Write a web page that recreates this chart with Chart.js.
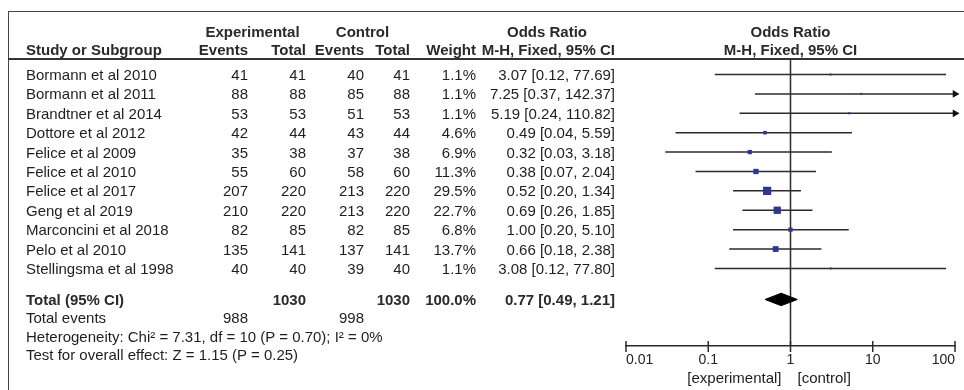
<!DOCTYPE html>
<html>
<head>
<meta charset="utf-8">
<script src="https://cdn.jsdelivr.net/npm/chart.js@4/dist/chart.umd.min.js"></script>
<style>
html,body{margin:0;padding:0;background:#fff;}
#wrap{position:relative;width:964px;height:390px;overflow:hidden;font-family:"Liberation Sans",Arial,sans-serif;font-size:15px;color:#1e1e1e;}
#c{position:absolute;left:0;top:0;}
.t{position:absolute;white-space:nowrap;line-height:17px;}
.b{font-weight:bold;color:#2a2a2a;}
#frame{position:absolute;left:8px;top:11px;width:1000px;height:420px;border-left:1px solid #444;border-top:1px solid #444;}
#hline{position:absolute;left:8px;top:58px;width:980px;height:0;border-top:2px solid #333;}
</style>
</head>
<body>
<div id="wrap">
  <div id="frame"></div>
  <div id="hline"></div>
  <canvas id="c" width="964" height="390"></canvas>
</div>
<script>
// ---- data ----
const studies = ["Bormann et al 2010","Bormann et al 2011","Brandtner et al 2014","Dottore et al 2012","Felice et al 2009","Felice et al 2010","Felice et al 2017","Geng et al 2019","Marconcini et al 2018","Pelo et al 2010","Stellingsma et al 1998"];
const expEvents  = [41, 88, 53, 42, 35, 55, 207, 210, 82, 135, 40];
const expTotal   = [41, 88, 53, 44, 38, 60, 220, 220, 85, 141, 40];
const ctrlEvents = [40, 85, 51, 43, 37, 58, 213, 213, 82, 137, 39];
const ctrlTotal  = [41, 88, 53, 44, 38, 60, 220, 220, 85, 141, 40];
const weights    = [1.1, 1.1, 1.1, 4.6, 6.9, 11.3, 29.5, 22.7, 6.8, 13.7, 1.1];
const orEst      = [3.07, 7.25, 5.19, 0.49, 0.32, 0.38, 0.52, 0.69, 1.00, 0.66, 3.08];
const ciLow      = [0.12, 0.37, 0.24, 0.04, 0.03, 0.07, 0.20, 0.26, 0.20, 0.18, 0.12];
const ciHigh     = [77.69, 142.37, 110.82, 5.59, 3.18, 2.04, 1.34, 1.85, 5.10, 2.38, 77.80];
const totalExp = 1030, totalCtrl = 1030, totalWeight = 100.0;
const totalOR = 0.77, totalLow = 0.49, totalHigh = 1.21;
const totalEventsExp = 988, totalEventsCtrl = 998;
const heterogeneityText = "Heterogeneity: Chi\u00B2 = 7.31, df = 10 (P = 0.70); I\u00B2 = 0%";
const overallText = "Test for overall effect: Z = 1.15 (P = 0.25)";
const xTicks = [0.01, 0.1, 1, 10, 100];
const xTickLabels = ["0.01", "0.1", "1", "10", "100"];

// ---- layout ----
const ROW_TOTAL = 11.6, ROW_EVENTS = 12.55, ROW_HET = 13.5, ROW_TEST = 14.45;
const Y_MIN = -0.8, Y_MAX = 14.0;
const COL = {name: 26, expE: 248, expT: 306, ctlE: 364, ctlT: 410, wt: 476, ci: 615};
const XMIN = 0.01, XMAX = 100;
const LINE_COLOR = '#2b2b2b';
const SQ_COLOR = '#2c3797';
const FONT = '"Liberation Sans", Arial, sans-serif';

const fmt2 = v => v.toFixed(2);
const ciText = (e, l, h) => `${fmt2(e)} [${fmt2(l)}, ${fmt2(h)}]`;

const datasets = [];
// reference line at OR = 1
datasets.push({type: 'line', data: [{x: 1, y: Y_MIN}, {x: 1, y: Y_MAX}], borderColor: LINE_COLOR, borderWidth: 1.5, pointRadius: 0, clip: false, order: 5});
// CI lines
studies.forEach((s, i) => {
  datasets.push({type: 'line', data: [{x: Math.max(ciLow[i], XMIN), y: i}, {x: Math.min(ciHigh[i], XMAX), y: i}],
    borderColor: LINE_COLOR, borderWidth: 1.5, pointRadius: 0, clip: false, order: 4});
});
// squares (area proportional to weight)
datasets.push({type: 'scatter', data: orEst.map((v, i) => ({x: v, y: i})),
  pointStyle: 'rect', backgroundColor: SQ_COLOR, borderColor: SQ_COLOR, borderWidth: 0,
  pointRadius: ctx => 1.0 * Math.sqrt(weights[ctx.dataIndex]) + 0.4, clip: false, order: 1});
// arrows for CIs beyond the axis
const arrowPts = [];
ciHigh.forEach((h, i) => { if (h > XMAX) arrowPts.push({x: XMAX, y: i}); });
datasets.push({type: 'scatter', data: arrowPts, pointStyle: 'triangle', rotation: 90, pointRadius: 4.5,
  backgroundColor: '#111', borderColor: '#111', borderWidth: 0, clip: false, order: 1});
// pooled diamond
const DH = 0.32;
datasets.push({type: 'line', data: [
  {x: totalLow, y: ROW_TOTAL}, {x: totalOR, y: ROW_TOTAL - DH}, {x: totalHigh, y: ROW_TOTAL},
  {x: totalOR, y: ROW_TOTAL + DH}, {x: totalLow, y: ROW_TOTAL}],
  borderColor: '#000', backgroundColor: '#000', borderWidth: 1, fill: 'shape', pointRadius: 0, tension: 0, clip: false, order: 0});

const tickMarks = {
  id: 'tickMarks',
  afterDraw(chart) {
    const {ctx, scales: {x}, chartArea} = chart;
    ctx.save();
    ctx.strokeStyle = LINE_COLOR; ctx.lineWidth = 1.5;
    x.ticks.forEach(t => {
      const px = x.getPixelForValue(t.value);
      ctx.beginPath(); ctx.moveTo(px, chartArea.bottom - 5); ctx.lineTo(px, chartArea.bottom + 6); ctx.stroke();
    });
    ctx.restore();
  }
};

const chart = new Chart(document.getElementById('c'), {
  type: 'scatter',
  data: {datasets},
  options: {
    responsive: false, animation: false,
    layout: {padding: {left: 626, right: 9, top: 59, bottom: 14}},
    plugins: {legend: {display: false}, tooltip: {enabled: false}},
    scales: {
      x: {type: 'logarithmic', min: XMIN, max: XMAX,
        afterBuildTicks: s => { s.ticks = xTicks.map(v => ({value: v})); },
        afterFit: s => { s.height = 30; },
        ticks: {callback: (v, i) => xTickLabels[i], align: 'inner', autoSkip: false, maxRotation: 0, padding: 6,
          color: '#222', font: {family: FONT, size: 14}},
        grid: {display: false, drawTicks: false},
        border: {display: true, color: LINE_COLOR, width: 1.5}},
      y: {type: 'linear', reverse: true, min: Y_MIN, max: Y_MAX, display: false}
    }
  },
  plugins: [tickMarks]
});

// ---- table text (real DOM text, positioned from the chart's y scale) ----
const wrap = document.getElementById('wrap');
const yPix = v => chart.scales.y.getPixelForValue(v);
function addText(txt, x, yc, align, bold) {
  const d = document.createElement('div');
  d.className = 't' + (bold ? ' b' : '');
  d.textContent = txt;
  d.style.top = (yc - 8.5) + 'px';
  if (align === 'right') d.style.right = (964 - x) + 'px';
  else if (align === 'center') { d.style.left = x + 'px'; d.style.transform = 'translateX(-50%)'; }
  else d.style.left = x + 'px';
  wrap.appendChild(d);
}
const H1 = 31, H2 = 49;
const x1 = chart.scales.x.getPixelForValue(1);
addText('Experimental', (COL.expE - 49 + COL.expT) / 2, H1, 'center', true);
addText('Control', (COL.ctlE - 49 + COL.ctlT) / 2, H1, 'center', true);
addText('Odds Ratio', COL.ci - 68, H1, 'center', true);
addText('Odds Ratio', x1, H1, 'center', true);
addText('Study or Subgroup', COL.name, H2, 'left', true);
addText('Events', COL.expE, H2, 'right', true);
addText('Total', COL.expT, H2, 'right', true);
addText('Events', COL.ctlE, H2, 'right', true);
addText('Total', COL.ctlT, H2, 'right', true);
addText('Weight', COL.wt, H2, 'right', true);
addText('M-H, Fixed, 95% CI', COL.ci, H2, 'right', true);
addText('M-H, Fixed, 95% CI', x1, H2, 'center', true);

studies.forEach((s, i) => {
  const y = yPix(i);
  addText(s, COL.name, y, 'left');
  addText(String(expEvents[i]), COL.expE, y, 'right');
  addText(String(expTotal[i]), COL.expT, y, 'right');
  addText(String(ctrlEvents[i]), COL.ctlE, y, 'right');
  addText(String(ctrlTotal[i]), COL.ctlT, y, 'right');
  addText(weights[i].toFixed(1) + '%', COL.wt, y, 'right');
  addText(ciText(orEst[i], ciLow[i], ciHigh[i]), COL.ci, y, 'right');
});
let y = yPix(ROW_TOTAL);
addText('Total (95% CI)', COL.name, y, 'left', true);
addText(String(totalExp), COL.expT, y, 'right', true);
addText(String(totalCtrl), COL.ctlT, y, 'right', true);
addText(totalWeight.toFixed(1) + '%', COL.wt, y, 'right', true);
addText(ciText(totalOR, totalLow, totalHigh), COL.ci, y, 'right', true);
y = yPix(ROW_EVENTS);
addText('Total events', COL.name, y, 'left');
addText(String(totalEventsExp), COL.expE, y, 'right');
addText(String(totalEventsCtrl), COL.ctlE, y, 'right');
addText(heterogeneityText, COL.name, yPix(ROW_HET), 'left');
addText(overallText, COL.name, yPix(ROW_TEST), 'left');
addText('[experimental]', x1 - 9, 377, 'right');
addText('[control]', x1 + 7, 377, 'left');
</script>
</body>
</html>
